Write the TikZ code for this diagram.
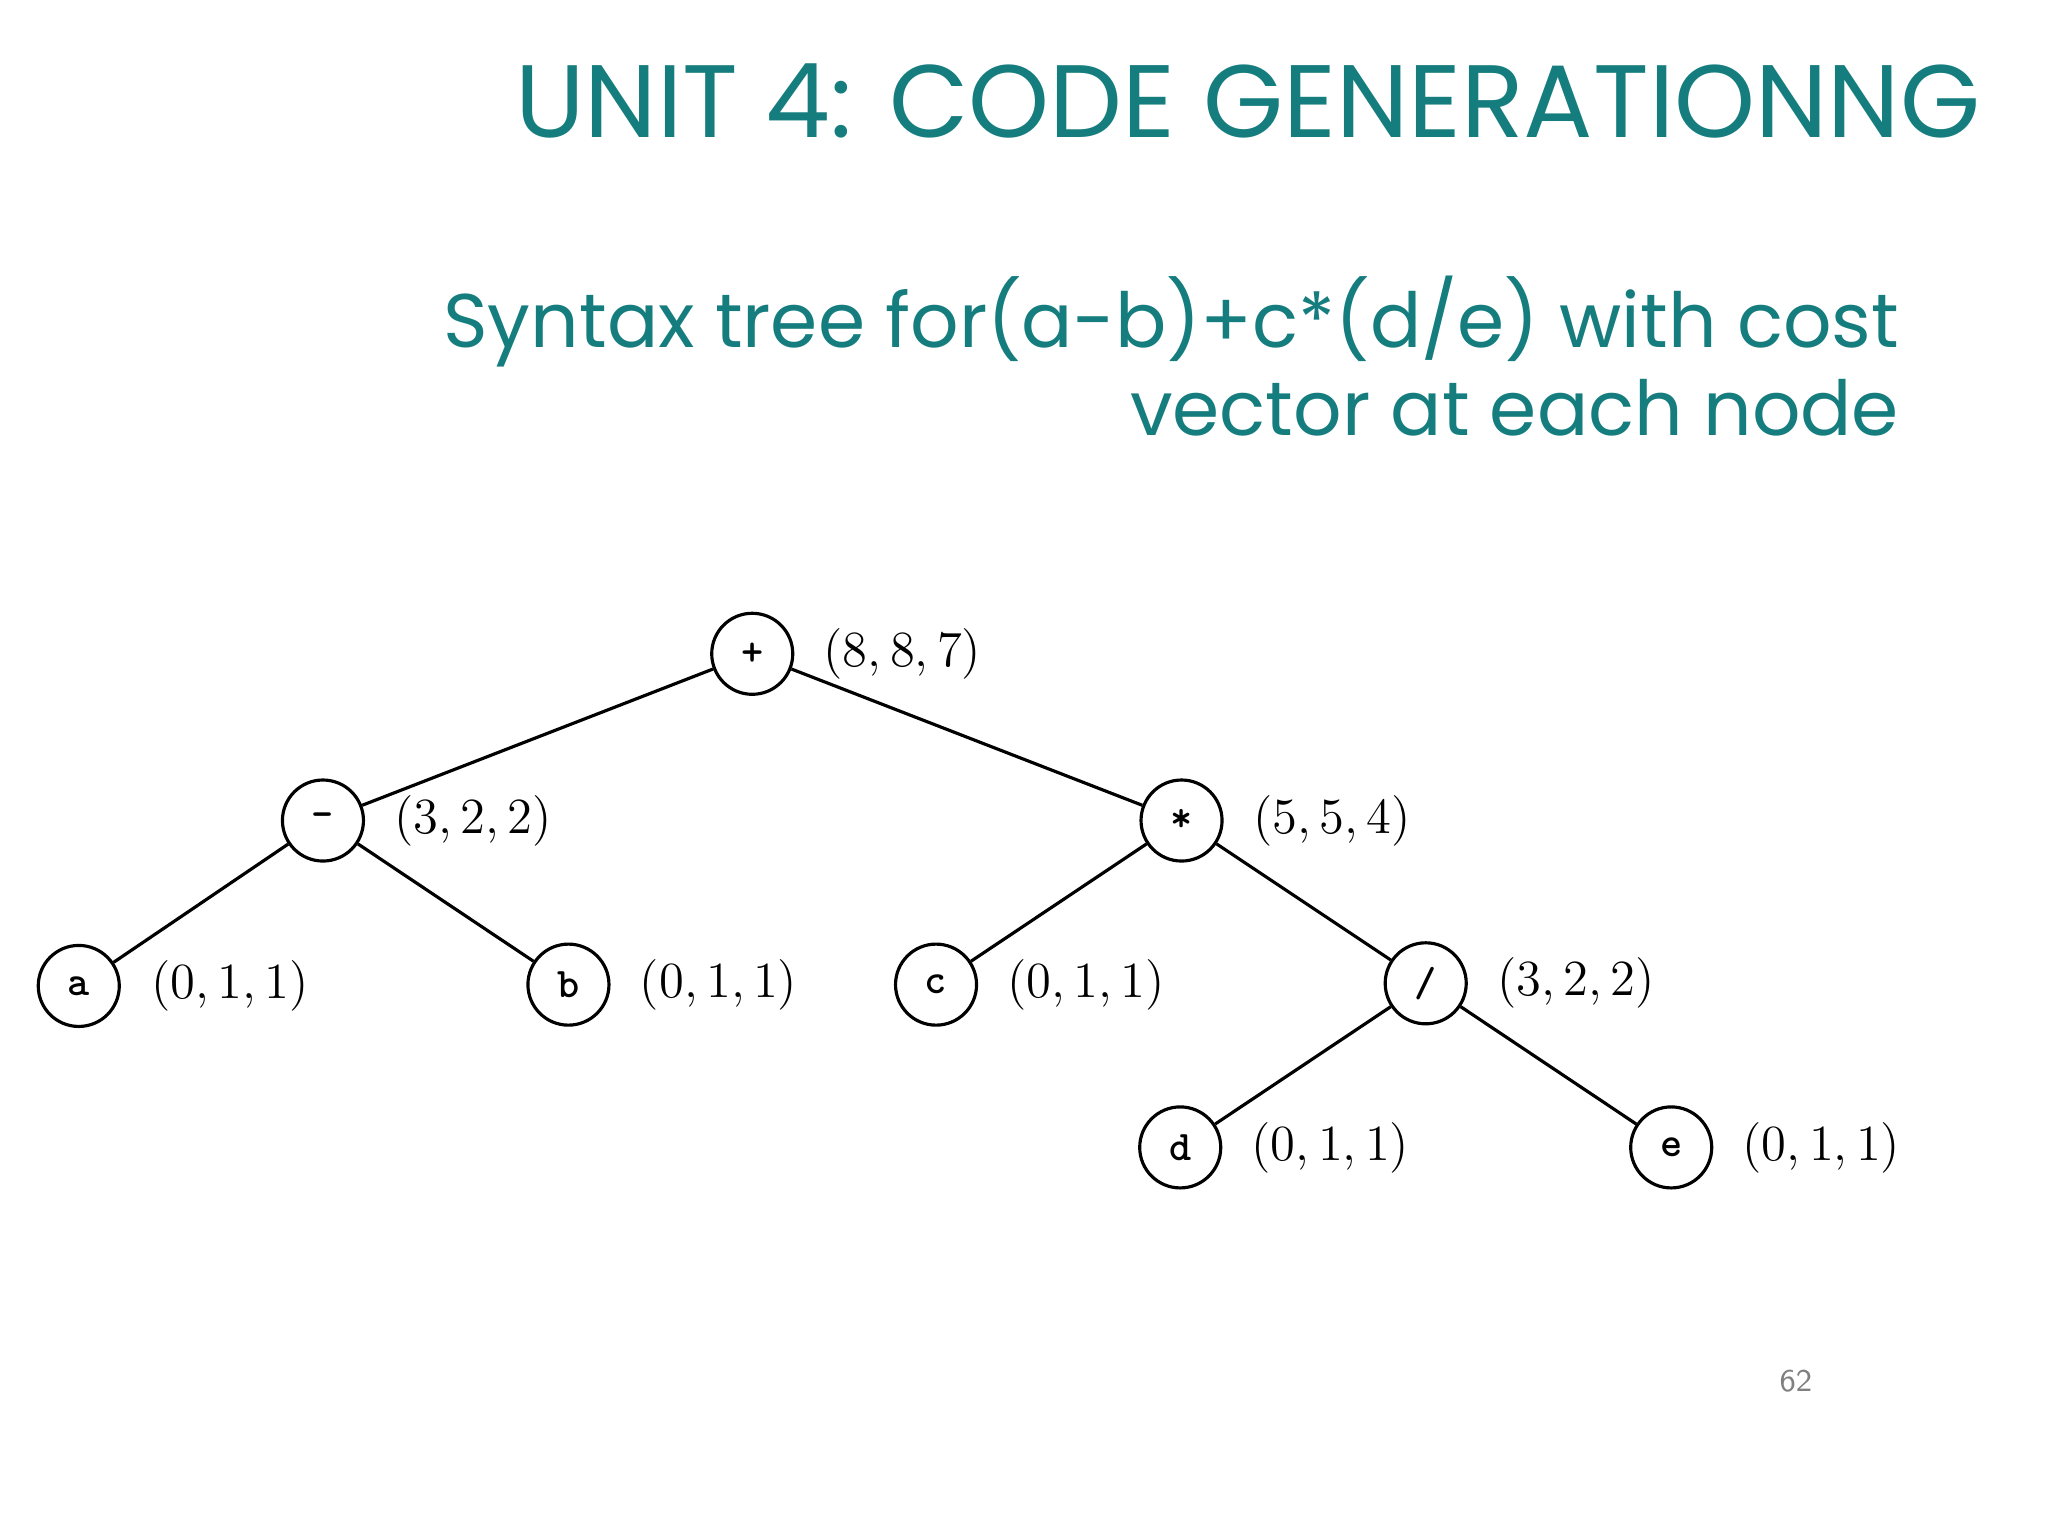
\documentclass[tikz,border=0pt]{standalone}
\usepackage{fontspec}
\newfontfamily\pop{Poppins}
\definecolor{teal1}{RGB}{22,125,127}
\begin{document}
\begin{tikzpicture}[x=0.01313cm,y=-0.01313cm,
  tn/.style={circle,draw,line width=0.9pt,minimum size=0.81cm,inner sep=0pt,font=\ttfamily\bfseries\large},
  cv/.style={anchor=west,font=\fontsize{15}{18}\selectfont}]
\useasboundingbox (0,0) rectangle (1560,1170);
\node[anchor=base east,text=teal1,font=\pop\fontsize{29.3}{34}\selectfont] (title) at (1518,105) {UNIT 4: CODE GENERATIONNG};
\node[anchor=base east,align=right,text=teal1,font=\pop\fontsize{21.6}{25}\selectfont] (sub) at (1456,265) {Syntax tree for(a-b)+c*(d/e) with cost};
\node[anchor=base east,align=right,text=teal1,font=\pop\fontsize{21.6}{25}\selectfont] (sub2) at (1456,332) {vector at each node};
\node[tn] (p) at (573,498) {+};
\node[tn] (m) at (246,625) {-};
\node[tn] (s) at (900,625) {*};
\node[tn] (a) at (60,751) {a};
\node[tn] (b) at (433,750) {b};
\node[tn] (c) at (713,750) {c};
\node[tn] (q) at (1086,749) {/};
\node[tn] (d) at (899,874) {d};
\node[tn] (e) at (1273,874) {e};
\draw[line width=0.9pt] (p)--(m) (p)--(s) (m)--(a) (m)--(b) (s)--(c) (s)--(q) (q)--(d) (q)--(e);
\node[cv] (lp) at (618,498) {$(8,8,7)$};
\node[cv] (lm) at (291,625) {$(3,2,2)$};
\node[cv] (ls) at (945,625) {$(5,5,4)$};
\node[cv] (la) at (106,751) {$(0,1,1)$};
\node[cv] (lb) at (478,750) {$(0,1,1)$};
\node[cv] (lc) at (758,750) {$(0,1,1)$};
\node[cv] (lq) at (1131,749) {$(3,2,2)$};
\node[cv] (ld) at (944,874) {$(0,1,1)$};
\node[cv] (le) at (1318,874) {$(0,1,1)$};
\node[text=gray,font=\sffamily\small] (pg) at (1368,1052) {62};
\end{tikzpicture}
\end{document}
